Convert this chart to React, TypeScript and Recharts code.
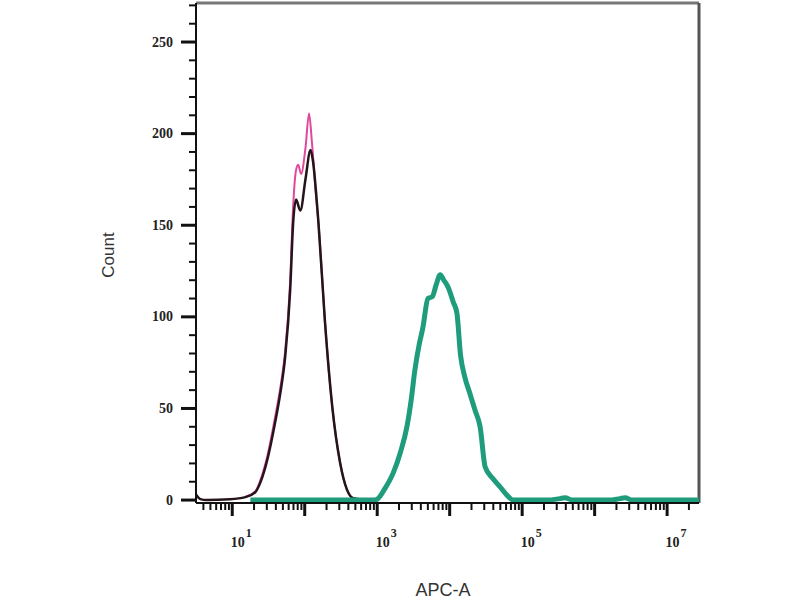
import { LineChart, Line, XAxis, YAxis, ReferenceLine } from "recharts"

// x values are log10(APC-A), y values are counts
const blackSeries = [
  { x: 0.5, y: 3 }, { x: 0.56, y: 0.5 }, { x: 0.65, y: 0 }, { x: 0.97, y: 0.4 },
  { x: 1.18, y: 1.6 }, { x: 1.32, y: 4.4 }, { x: 1.39, y: 9.8 }, { x: 1.49, y: 23 },
  { x: 1.59, y: 42 }, { x: 1.67, y: 60 }, { x: 1.73, y: 78 }, { x: 1.8, y: 115 },
  { x: 1.84, y: 151 }, { x: 1.88, y: 164 }, { x: 1.94, y: 158 },
  { x: 2.01, y: 175 }, { x: 2.08, y: 191 }, { x: 2.11, y: 186 }, { x: 2.19, y: 151 },
  { x: 2.28, y: 97 }, { x: 2.38, y: 51 }, { x: 2.49, y: 20 }, { x: 2.58, y: 6 },
  { x: 2.67, y: 1 }, { x: 2.86, y: 0 }, { x: 3.0, y: 0 },
]

const pinkSeries = [
  { x: 1.18, y: 1.8 }, { x: 1.32, y: 4.8 }, { x: 1.39, y: 11 }, { x: 1.49, y: 25 },
  { x: 1.59, y: 45 }, { x: 1.67, y: 63 }, { x: 1.73, y: 81 }, { x: 1.8, y: 120 },
  { x: 1.84, y: 160 }, { x: 1.88, y: 180 }, { x: 1.91, y: 183 }, { x: 1.95, y: 178 },
  { x: 2.01, y: 192 }, { x: 2.06, y: 211 }, { x: 2.1, y: 195 }, { x: 2.16, y: 164 },
  { x: 2.19, y: 151 }, { x: 2.28, y: 97 }, { x: 2.38, y: 51 }, { x: 2.49, y: 20 },
  { x: 2.58, y: 6 }, { x: 2.67, y: 1 }, { x: 2.86, y: 0 },
]

const tealSeries = [
  { x: 1.25, y: 0 }, { x: 2.0, y: 0 }, { x: 2.95, y: 0 }, { x: 3.0, y: 0.5 },
  { x: 3.11, y: 6.5 }, { x: 3.22, y: 14.7 }, { x: 3.32, y: 26 }, { x: 3.41, y: 40 },
  { x: 3.47, y: 55 }, { x: 3.52, y: 71 }, { x: 3.58, y: 85 }, { x: 3.63, y: 94 },
  { x: 3.7, y: 110 }, { x: 3.76, y: 111 }, { x: 3.81, y: 117 }, { x: 3.87, y: 123 },
  { x: 3.92, y: 120 }, { x: 3.98, y: 116 }, { x: 4.05, y: 108 }, { x: 4.1, y: 102 },
  { x: 4.15, y: 79 }, { x: 4.21, y: 67 }, { x: 4.28, y: 58 }, { x: 4.35, y: 49 },
  { x: 4.42, y: 40 }, { x: 4.49, y: 18 }, { x: 4.59, y: 12 }, { x: 4.7, y: 7 },
  { x: 4.79, y: 2.7 }, { x: 4.88, y: 0 }, { x: 5.07, y: 0 }, { x: 5.35, y: 0 },
  { x: 5.52, y: 0.8 }, { x: 5.59, y: 1.2 }, { x: 5.7, y: 0 }, { x: 6.2, y: 0 },
  { x: 6.35, y: 0.8 }, { x: 6.42, y: 1.2 }, { x: 6.52, y: 0 }, { x: 7.44, y: 0 },
]

const decades = [0, 1, 2, 3, 4, 5, 6, 7]
const minorSteps = [1, 2, 3, 4, 5, 6, 7, 8, 9]
const labelledDecades = [1, 3, 5, 7]
const yTicks = [0, 10, 20, 30, 40, 50, 60, 70, 80, 90, 100, 110, 120, 130, 140, 150, 160, 170, 180, 190, 200, 210, 220, 230, 240, 250, 260, 270]
const yLabelled = [0, 50, 100, 150, 200, 250]

const X_DOMAIN: [number, number] = [0.5, 7.44]
const Y_DOMAIN: [number, number] = [-1.6, 271.3]

const xTicks = decades
  .flatMap((d) => minorSteps.map((k) => +(d + Math.log10(k)).toFixed(4)))
  .filter((v) => v >= X_DOMAIN[0] && v <= X_DOMAIN[1])

const tickFont = "'Liberation Serif', 'DejaVu Serif', serif"

function XTick({ x, y, payload }: any) {
  const v = payload.value
  const major = Math.abs(v - Math.round(v)) < 1e-6
  const labelled = major && labelledDecades.includes(Math.round(v))
  return (
    <g>
      <line x1={x} x2={x} y1={y} y2={y + (major ? 13 : 7)} stroke="#111" strokeWidth={major ? 3 : 2} />
      {labelled && (
        <text x={x + 9} y={y + 44} textAnchor="middle" fontFamily={tickFont} fontWeight="bold" fontSize={14} fill="#222">
          10
          <tspan dx={1} dy={-10} fontSize={12}>{Math.round(v)}</tspan>
        </text>
      )}
    </g>
  )
}

function YTick({ x, y, payload }: any) {
  const v = payload.value
  const major = yLabelled.includes(v)
  return (
    <g>
      <line x1={x} x2={x - (major ? 15 : 7)} y1={y} y2={y} stroke="#111" strokeWidth={major ? 3 : 2} />
      {major && (
        <text x={x - 23} y={y} dy={4.5} textAnchor="end" fontFamily={tickFont} fontWeight="bold" fontSize={14} fill="#222">
          {v}
        </text>
      )}
    </g>
  )
}

const CountLabel = () => (
  <text
    x={114}
    y={255}
    transform="rotate(-90 114 255)"
    textAnchor="middle"
    fontFamily="'Liberation Sans', Arial, sans-serif"
    fontSize={17}
    fill="#333"
  >
    Count
  </text>
)

const ApcLabel = () => (
  <text x={443} y={596} textAnchor="middle" fontFamily="'Liberation Sans', Arial, sans-serif" fontSize={18} fill="#333">
    APC-A
  </text>
)

export default function App() {
  return (
    <div style={{ position: "absolute", left: 0, top: 0, width: 800, height: 600, background: "#fff" }}>
      <LineChart width={800} height={600} margin={{ top: 3, right: 101, bottom: 0, left: 0 }}>
        <XAxis
          type="number"
          dataKey="x"
          domain={X_DOMAIN}
          allowDataOverflow
          ticks={xTicks}
          interval={0}
          tick={<XTick />}
          tickLine={false}
          tickSize={0}
          tickMargin={0}
          height={97}
          axisLine={{ stroke: "#111", strokeWidth: 2 }}
          label={<ApcLabel />}
        />
        <YAxis
          type="number"
          domain={Y_DOMAIN}
          allowDataOverflow
          ticks={yTicks}
          interval={0}
          tick={<YTick />}
          tickLine={false}
          tickSize={0}
          tickMargin={0}
          width={196}
          axisLine={{ stroke: "#111", strokeWidth: 2 }}
          label={<CountLabel />}
        />
        <ReferenceLine y={Y_DOMAIN[1]} stroke="#777" strokeWidth={3} />
        <ReferenceLine x={X_DOMAIN[1]} stroke="#555" strokeWidth={3} />
        <Line data={pinkSeries} dataKey="y" type="monotone" stroke="#e0489c" strokeWidth={2} dot={false} isAnimationActive={false} />
        <Line data={blackSeries} dataKey="y" type="monotone" stroke="#24141c" strokeWidth={2.5} dot={false} isAnimationActive={false} />
        <Line data={tealSeries} dataKey="y" type="monotone" stroke="#1f9c7c" strokeWidth={5} dot={false} isAnimationActive={false} />
      </LineChart>
    </div>
  )
}
